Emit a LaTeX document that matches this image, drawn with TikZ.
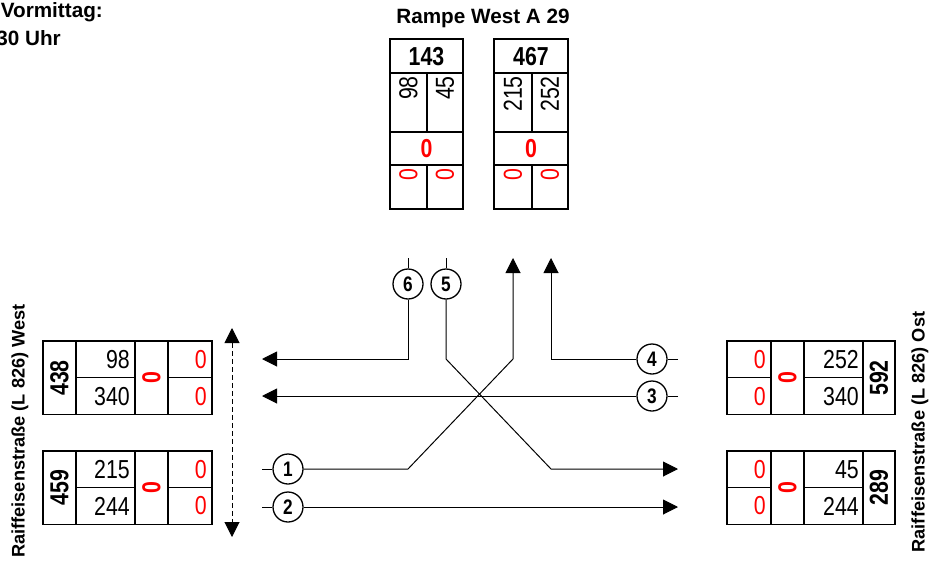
\documentclass[tikz,border=0pt]{standalone}
\usepackage{fontspec}
\setmainfont{Liberation Sans}
\newfontfamily\narrowfont{Liberation Sans}[FakeStretch=0.82]
\usetikzlibrary{arrows.meta}
\definecolor{redz}{RGB}{255,0,0}
\tikzset{
  box/.style={draw, line width=1.1pt},
  sep/.style={line width=1.1pt},
  num/.style={inner sep=0pt, font=\narrowfont\fontsize{26}{28}\selectfont},
  bnum/.style={inner sep=0pt, font=\narrowfont\bfseries\fontsize{26}{28}\selectfont},
  rnum/.style={num, text=redz},
  rbnum/.style={bnum, text=redz},
  lab/.style={inner sep=0pt, font=\bfseries\fontsize{20.7}{24}\selectfont},
  slab/.style={inner sep=0pt, font=\bfseries\fontsize{18.2}{22}\selectfont},
  circ/.style={circle, draw, line width=1.3pt, minimum size=30pt, inner sep=0pt, fill=white,
    font=\narrowfont\bfseries\fontsize{21}{22}\selectfont},
  flow/.style={line width=1pt},
  tip/.tip={Triangle[length=15pt,width=15pt]},
  arr/.style={flow, -tip},
}
\begin{document}
\begin{tikzpicture}[x=1pt,y=-1pt]
\useasboundingbox (0,0) rectangle (929,562);
% top-left caption
\node[lab, anchor=base east] (cap1) at (103,17) {Vormittag:};
\node[lab, anchor=base east] (cap2) at (61,45) {30 Uhr};
% title
\node[lab] (title) at (483,18) {Rampe West A 29};
% top boxes
\draw[box] (390,39) rectangle (463,209);
\draw[sep] (390,73) -- (463,73) (390,132) -- (463,132) (390,165) -- (463,165)
  (427,73) -- (427,132) (427,165) -- (427,209);
\draw[box] (494,39) rectangle (568,209);
\draw[sep] (494,73) -- (568,73) (494,132) -- (568,132) (494,165) -- (568,165)
  (532,73) -- (532,132) (532,165) -- (532,209);
\node[bnum] (t143) at (426.5,56.5) {143};
\node[bnum] (t467) at (531,56.5) {467};
\node[num, rotate=90, anchor=east] (t98) at (408.5,76) {98};
\node[num, rotate=90, anchor=east] (t45) at (445,76) {45};
\node[num, rotate=90, anchor=east] (t215) at (513,76) {215};
\node[num, rotate=90, anchor=east] (t252) at (550,76) {252};
\node[rbnum] (tz1) at (426.5,148.5) {0};
\node[rbnum] (tz2) at (531,148.5) {0};
\node[rnum, rotate=90, anchor=east] (tz3) at (408.5,168) {0};
\node[rnum, rotate=90, anchor=east] (tz4) at (445,168) {0};
\node[rnum, rotate=90, anchor=east] (tz5) at (513,168) {0};
\node[rnum, rotate=90, anchor=east] (tz6) at (550,168) {0};
% side boxes
\foreach \y in {341,451}{
  \draw[box] (43,\y) rectangle (212,\y+73.5);
  \draw[sep] (76,\y) -- (76,\y+73.5) (135,\y) -- (135,\y+73.5) (168,\y) -- (168,\y+73.5)
    (76,\y+36.75) -- (135,\y+36.75) (168,\y+36.75) -- (212,\y+36.75);
  \draw[box] (727,\y) rectangle (895,\y+73.5);
  \draw[sep] (771,\y) -- (771,\y+73.5) (804,\y) -- (804,\y+73.5) (863,\y) -- (863,\y+73.5)
    (727,\y+36.75) -- (771,\y+36.75) (804,\y+36.75) -- (863,\y+36.75);
}
\node[bnum, rotate=90] (l438) at (59.5,378) {438};
\node[num, anchor=east] (l98) at (130,360) {98};
\node[num, anchor=east] (l340) at (130,397) {340};
\node[rbnum, rotate=90] (lz1) at (151.5,378) {0};
\node[rnum, anchor=east] (lz2) at (207,360) {0};
\node[rnum, anchor=east] (lz3) at (207,397) {0};
\node[bnum, rotate=90] (l459) at (59.5,487.5) {459};
\node[num, anchor=east] (l215) at (130,469.5) {215};
\node[num, anchor=east] (l244) at (130,506) {244};
\node[rbnum, rotate=90] (lz4) at (151.5,487.5) {0};
\node[rnum, anchor=east] (lz5) at (207,469.5) {0};
\node[rnum, anchor=east] (lz6) at (207,506) {0};
\node[rnum, anchor=east] (rz1) at (766,360) {0};
\node[rnum, anchor=east] (rz2) at (766,397) {0};
\node[rbnum, rotate=90] (rz3) at (787.5,378) {0};
\node[num, anchor=east] (r252) at (859,360) {252};
\node[num, anchor=east] (r340) at (859,397) {340};
\node[bnum, rotate=90] (r592) at (879,378) {592};
\node[rnum, anchor=east] (rz4) at (766,469.5) {0};
\node[rnum, anchor=east] (rz5) at (766,506) {0};
\node[rbnum, rotate=90] (rz6) at (787.5,487.5) {0};
\node[num, anchor=east] (r45) at (859,469.5) {45};
\node[num, anchor=east] (r244) at (859,506) {244};
\node[bnum, rotate=90] (r289) at (879,487.5) {289};
% side labels
\node[slab, rotate=90] (lwest) at (20,431) {Raiffeisenstraße (L 826) West};
\node[slab, rotate=90] (rost) at (920,432) {Raiffeisenstraße (L 826) Ost};
% dashed double arrow
\coordinate (da) at (232,328);
\coordinate (db) at (232,537);
\draw[flow, dash pattern=on 5pt off 3pt, tip-tip] (da) -- (db);
% circles
\node[circ] (c6) at (408,284) {6};
\node[circ] (c5) at (446,284) {5};
\node[circ] (c1) at (288,469) {1};
\node[circ] (c2) at (288,507) {2};
\node[circ] (c4) at (652,359) {4};
\node[circ] (c3) at (652,396) {3};
% coordinates
\coordinate (t6) at (408,258);
\coordinate (t5) at (446,258);
\coordinate (s1) at (262,469);
\coordinate (s2) at (262,507);
\coordinate (s4) at (678,359);
\coordinate (s3) at (678,396);
\coordinate (e6) at (262,359);
\coordinate (e3) at (262,396);
\coordinate (e5) at (678,469);
\coordinate (e2) at (678,507);
\coordinate (e1) at (513,258);
\coordinate (e4) at (551,258);
% connectors
\draw[flow] (t6) -- (c6);
\draw[flow] (t5) -- (c5);
\draw[flow] (s1) -- (c1);
\draw[flow] (s2) -- (c2);
\draw[flow] (s4) -- (c4);
\draw[flow] (s3) -- (c3);
\draw[arr] (c6) |- (e6);
\draw[arr] (c5) -- (446,359) -- (551,469) -- (e5);
\draw[arr] (c1) -- (408,469) -- (513,359) -- (e1);
\draw[arr] (c2) -- (e2);
\draw[arr] (c4) -| (e4);
\draw[arr] (c3) -- (e3);
\end{tikzpicture}
\end{document}
